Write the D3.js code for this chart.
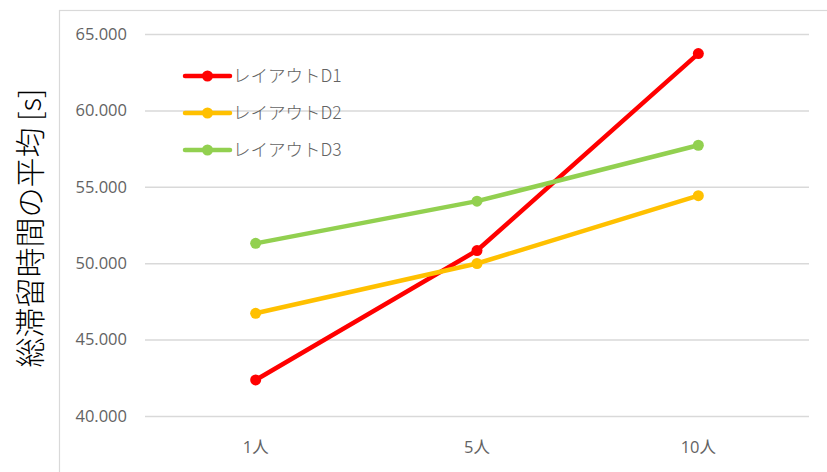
<!DOCTYPE html>
<html>
<head>
<meta charset="utf-8">
<script src="https://cdn.jsdelivr.net/npm/d3@7"></script>
<style>
  html, body { margin: 0; padding: 0; background: #fff; }
  svg { display: block; }
  .tick text { font-family: "Open Sans", "Noto Sans CJK JP", sans-serif; fill: #636363; }
</style>
</head>
<body>
<svg id="chart" width="827" height="472"></svg>
<script>
// Average total dwell time per layout, by number of people
const categories = ["1人", "5人", "10人"];
const seriesNames = ["レイアウトD1", "レイアウトD2", "レイアウトD3"];
const seriesColors = ["#ff0000", "#ffc000", "#92d050"];
const valuesD1 = [42.36, 50.83, 63.72];
const valuesD2 = [46.72, 49.98, 54.42];
const valuesD3 = [51.30, 54.06, 57.72];
const yTicks = [40, 45, 50, 55, 60, 65];
const yTitle = "総滞留時間の平均 [s]";

const series = [valuesD1, valuesD2, valuesD3].map((vals, i) => ({
  name: seriesNames[i], color: seriesColors[i], values: vals
}));

const W = 827, H = 472;
const plot = { left: 145, right: 809, top: 34, bottom: 416 };

const svg = d3.select("#chart");

// outer chart frame (only left and top edges fall inside the view)
svg.append("rect")
  .attr("x", 59.5).attr("y", 10.5)
  .attr("width", W).attr("height", H)
  .attr("fill", "none").attr("stroke", "#d9d9d9").attr("stroke-width", 1.2);

const x = d3.scaleBand().domain(categories).range([plot.left, plot.right]);
const y = d3.scaleLinear().domain([40, 65]).range([plot.bottom, plot.top]);

// horizontal gridlines + y tick labels
const yAxis = svg.append("g")
  .attr("transform", `translate(${plot.left},0)`)
  .call(d3.axisLeft(y).tickValues(yTicks).tickFormat(d3.format(".3f"))
    .tickSizeInner(-(plot.right - plot.left)).tickSizeOuter(0).tickPadding(18));
yAxis.select(".domain").remove();
yAxis.selectAll(".tick line").attr("stroke", "#d9d9d9").attr("stroke-width", 1.5);
yAxis.selectAll(".tick text").attr("font-size", 16.5);

// category labels
const xAxis = svg.append("g")
  .attr("transform", `translate(0,${plot.bottom})`)
  .call(d3.axisBottom(x).tickSize(0).tickPadding(25));
xAxis.select(".domain").remove();
xAxis.selectAll(".tick text").attr("font-size", 16.5);

// axis title
svg.append("text")
  .attr("transform", `translate(41,228) rotate(-90)`)
  .attr("text-anchor", "middle")
  .attr("font-family", "'Noto Sans CJK JP', sans-serif")
  .attr("font-weight", 300)
  .attr("font-size", 30)
  .attr("fill", "#000")
  .text(yTitle);

// lines and markers
const line = d3.line()
  .x((d, i) => x(categories[i]) + x.bandwidth() / 2)
  .y(d => y(d));

series.forEach(s => {
  svg.append("path")
    .datum(s.values)
    .attr("d", line)
    .attr("fill", "none")
    .attr("stroke", s.color)
    .attr("stroke-width", 4.5)
    .attr("stroke-linejoin", "round")
    .attr("stroke-linecap", "round");
  svg.append("g").selectAll("circle")
    .data(s.values)
    .join("circle")
    .attr("cx", (d, i) => x(categories[i]) + x.bandwidth() / 2)
    .attr("cy", d => y(d))
    .attr("r", 5.5)
    .attr("fill", s.color);
});

// legend
const legend = svg.append("g");
const rows = legend.selectAll("g")
  .data(series)
  .join("g")
  .attr("transform", (d, i) => `translate(185,${76 + i * 37})`);
rows.append("line")
  .attr("x1", 0).attr("x2", 45).attr("y1", 0).attr("y2", 0)
  .attr("stroke", d => d.color).attr("stroke-width", 4.5)
  .attr("stroke-linecap", "round");
rows.append("circle")
  .attr("cx", 22.5).attr("cy", 0).attr("r", 5.5)
  .attr("fill", d => d.color);
rows.append("text")
  .attr("x", 48).attr("y", 0).attr("dy", "0.35em")
  .attr("font-family", "'Noto Sans CJK JP', sans-serif")
  .attr("font-weight", 300)
  .attr("font-size", 17.5)
  .attr("fill", "#636363")
  .text(d => d.name);
</script>
</body>
</html>
